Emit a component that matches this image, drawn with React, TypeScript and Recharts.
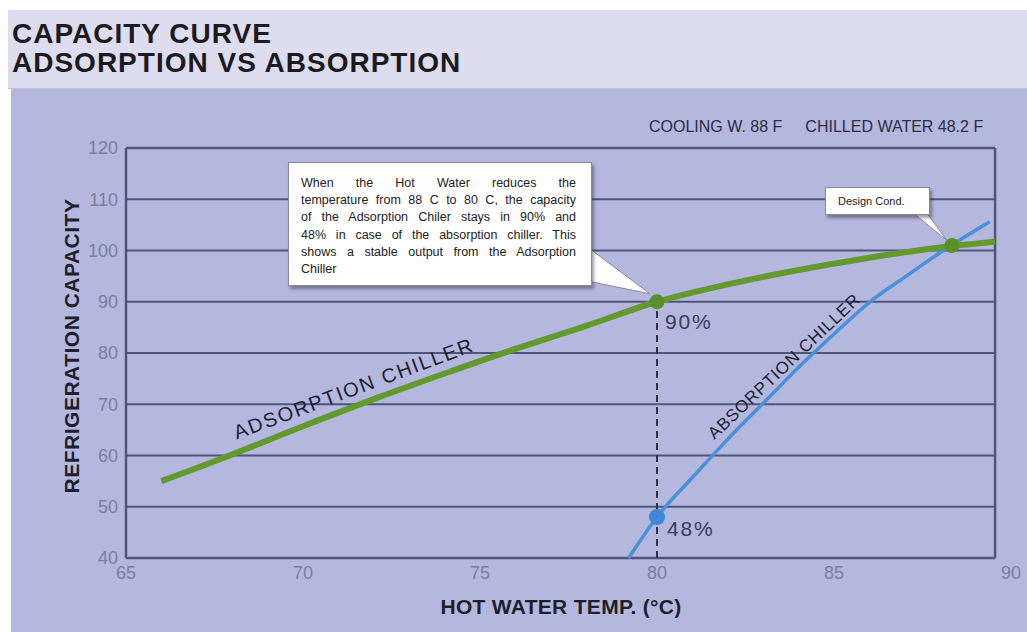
import { Line, LineChart, ReferenceDot, ReferenceLine, XAxis, YAxis } from "recharts";

// Adsorption chiller (green) – hot water temp °C vs refrigeration capacity %
const adsorptionTemp = [66, 68, 70, 72, 74, 76, 78, 80, 82, 84, 86, 88, 89.55];
const adsorptionCap = [55, 60.2, 65.7, 71.0, 76.0, 80.8, 85.3, 90, 93.4, 96.2, 98.6, 100.6, 101.7];

// Absorption chiller (blue)
const absorptionTemp = [79.2, 80, 81, 82, 83, 84, 85, 86, 87, 88, 89.4];
const absorptionCap = [40, 48, 55.7, 63.2, 70.2, 77.2, 83.7, 89.9, 94.8, 99.6, 105.6];

const xTicks = [65, 70, 75, 80, 85, 90];
const yTicks = [40, 50, 60, 70, 80, 90, 100, 110, 120];
const gridLevels = [50, 60, 70, 80, 90, 100, 110];

// the drawn frame stops a little short of 90
const frameLeft = 65;
const frameRight = 89.55;

const point90 = { temp: 80, cap: 90, text: "90%" };
const point48 = { temp: 80, cap: 48, text: "48%" };
const designPoint = { temp: 88.33, cap: 101 };

const adsorptionLabel = { temp: 71.5, cap: 71.8, text: "ADSORPTION CHILLER" };
const absorptionLabel = { temp: 83.7, cap: 76.6, text: "ABSORPTION CHILLER" };

const FONT = '"Liberation Sans", Arial, Helvetica, sans-serif';
const GRID = "#50567a";
const TICK = "#7a7fa2";
const GREEN = "#64992e";
const BLUE = "#4a90da";

function pct(p: any, text: string, fill: string, r: number, dx: number, dy: number) {
  const { cx, cy } = p;
  return (
    <g>
      <circle cx={cx} cy={cy} r={r} fill={fill} />
      <text x={cx + dx} y={cy + dy} fontFamily={FONT} fontSize={21} letterSpacing={1.8} fill="#3a3d55">
        {text}
      </text>
    </g>
  );
}

function curveLabel(p: any, text: string, angle: number, size: number, spacing: number) {
  const { cx, cy } = p;
  return (
    <text
      x={cx}
      y={cy}
      textAnchor="middle"
      transform={`rotate(${angle}, ${cx}, ${cy})`}
      fontFamily={FONT}
      fontSize={size}
      letterSpacing={spacing}
      fill="#1d1f30"
    >
      {text}
    </text>
  );
}

export default function App() {
  const adsorption = adsorptionTemp.map((t, i) => ({ temp: t, cap: adsorptionCap[i] }));
  const absorption = absorptionTemp.map((t, i) => ({ temp: t, cap: absorptionCap[i] }));

  return (
    <div style={{ position: "relative", width: 1027, height: 632, background: "#fff", overflow: "hidden", fontFamily: FONT }}>
      <style>{`body{margin:0}`}</style>

      {/* header band */}
      <div style={{ position: "absolute", left: 8, top: 10, width: 1019, height: 78, background: "#dedcef", borderBottom: "1px solid #c4c3d8" }} />
      <div style={{ position: "absolute", left: 12, top: 19, fontSize: 28, lineHeight: "29px", fontWeight: 700, color: "#1b1b1f", letterSpacing: 1 }}>
        CAPACITY CURVE
        <br />
        ADSORPTION VS ABSORPTION
      </div>

      {/* chart panel */}
      <div style={{ position: "absolute", left: 11, top: 89, width: 1016, height: 543, background: "#b4b7de" }} />

      <div style={{ position: "absolute", left: 649, top: 118, fontSize: 16, lineHeight: "18px", color: "#2b2e45", whiteSpace: "nowrap" }}>
        COOLING W. 88 F<span style={{ marginLeft: 23 }}>CHILLED WATER 48.2 F</span>
      </div>

      <div style={{ position: "absolute", left: 0, top: 0 }}>
        <LineChart width={1027} height={632} margin={{ top: 148, right: 16, bottom: 44, left: 66 }}>
          <XAxis
            type="number"
            dataKey="temp"
            domain={[65, 90]}
            ticks={xTicks}
            axisLine={false}
            tickLine={false}
            height={30}
            tick={{ fill: TICK, fontSize: 18, fontFamily: FONT }}
          />
          <YAxis
            type="number"
            dataKey="cap"
            domain={[40, 120]}
            ticks={yTicks}
            axisLine={false}
            tickLine={false}
            width={60}
            tick={{ fill: TICK, fontSize: 18, fontFamily: FONT }}
          />

          {gridLevels.map((v) => (
            <ReferenceLine key={v} segment={[{ x: frameLeft, y: v }, { x: frameRight, y: v }]} stroke={GRID} strokeWidth={2} />
          ))}
          <ReferenceLine segment={[{ x: frameLeft, y: 120 }, { x: frameRight, y: 120 }]} stroke={GRID} strokeWidth={2.5} />
          <ReferenceLine segment={[{ x: frameLeft, y: 40 }, { x: frameRight, y: 40 }]} stroke={GRID} strokeWidth={2.5} />
          <ReferenceLine segment={[{ x: frameLeft, y: 40 }, { x: frameLeft, y: 120 }]} stroke={GRID} strokeWidth={2.5} />
          <ReferenceLine segment={[{ x: frameRight, y: 40 }, { x: frameRight, y: 120 }]} stroke={GRID} strokeWidth={2.5} />

          <ReferenceLine
            segment={[{ x: point90.temp, y: 40 }, { x: point90.temp, y: point90.cap }]}
            stroke="#2f3144"
            strokeWidth={2}
            strokeDasharray="7 5"
          />

          <Line data={absorption} dataKey="cap" type="monotone" stroke={BLUE} strokeWidth={3.5} dot={false} isAnimationActive={false} />
          <Line data={adsorption} dataKey="cap" type="monotone" stroke={GREEN} strokeWidth={6} dot={false} isAnimationActive={false} />

          <ReferenceDot
            x={adsorptionLabel.temp}
            y={adsorptionLabel.cap}
            shape={(p: any) => curveLabel(p, adsorptionLabel.text, -20.5, 20, 1.8)}
          />
          <ReferenceDot
            x={absorptionLabel.temp}
            y={absorptionLabel.cap}
            shape={(p: any) => curveLabel(p, absorptionLabel.text, -43.5, 17, 0.8)}
          />

          <ReferenceDot
            x={point48.temp}
            y={point48.cap}
            shape={(p: any) => pct(p, point48.text, "#3f86d6", 8, 10, 19)}
          />
          <ReferenceDot
            x={point90.temp}
            y={point90.cap}
            shape={(p: any) => (
              <g>
                <polygon
                  points={`${p.cx - 66},${p.cy - 52} ${p.cx - 7},${p.cy - 8} ${p.cx - 66},${p.cy - 20}`}
                  fill="#fff"
                  stroke="#8a8a96"
                  strokeWidth={1}
                />
                {pct(p, point90.text, "#5a9028", 7.5, 8, 27)}
              </g>
            )}
          />
          <ReferenceDot
            x={designPoint.temp}
            y={designPoint.cap}
            shape={(p: any) => (
              <g>
                <polygon
                  points={`${p.cx - 37},${p.cy - 31} ${p.cx - 5},${p.cy - 5} ${p.cx - 24},${p.cy - 31}`}
                  fill="#fff"
                  stroke="#8a8a96"
                  strokeWidth={1}
                />
                <circle cx={p.cx} cy={p.cy} r={7.5} fill="#5a9028" />
              </g>
            )}
          />
        </LineChart>
      </div>

      {/* axis titles */}
      <div
        style={{
          position: "absolute",
          left: 72,
          top: 346,
          transform: "translate(-50%, -50%) rotate(-90deg)",
          fontSize: 21,
          fontWeight: 700,
          letterSpacing: 0.5,
          color: "#1e1f2a",
          whiteSpace: "nowrap",
        }}
      >
        REFRIGERATION CAPACITY
      </div>
      <div
        style={{
          position: "absolute",
          left: 561,
          top: 607,
          transform: "translate(-50%, -50%)",
          fontSize: 21,
          fontWeight: 700,
          letterSpacing: 0.3,
          color: "#1e1f2a",
          whiteSpace: "nowrap",
        }}
      >
        HOT WATER TEMP. (°C)
      </div>

      {/* callouts */}
      <div
        style={{
          position: "absolute",
          left: 288,
          top: 162,
          width: 304,
          height: 124,
          boxSizing: "border-box",
          background: "#fff",
          border: "1px solid #8a8a96",
          boxShadow: "2px 3px 3px rgba(40,40,60,0.45)",
          padding: "12px 15px 0 12px",
          fontSize: 12.5,
          lineHeight: "17.2px",
          color: "#222",
        }}
      >
        {[
          "When the Hot Water reduces the",
          "temperature from 88 C to 80 C, the capacity",
          "of the Adsorption Chiler stays in 90% and",
          "48% in case of the absorption chiller. This",
          "shows a stable output from the Adsorption",
        ].map((line) => (
          <div key={line} style={{ textAlign: "justify", textAlignLast: "justify", whiteSpace: "nowrap" }}>
            {line}
          </div>
        ))}
        <div>Chiller</div>
      </div>
      <div
        style={{
          position: "absolute",
          left: 825,
          top: 187,
          width: 105,
          height: 28,
          boxSizing: "border-box",
          background: "#fff",
          border: "1px solid #8a8a96",
          boxShadow: "2px 3px 3px rgba(40,40,60,0.45)",
          fontSize: 11,
          lineHeight: "26px",
          paddingLeft: 12,
          color: "#222",
        }}
      >
        Design Cond.
      </div>
    </div>
  );
}
